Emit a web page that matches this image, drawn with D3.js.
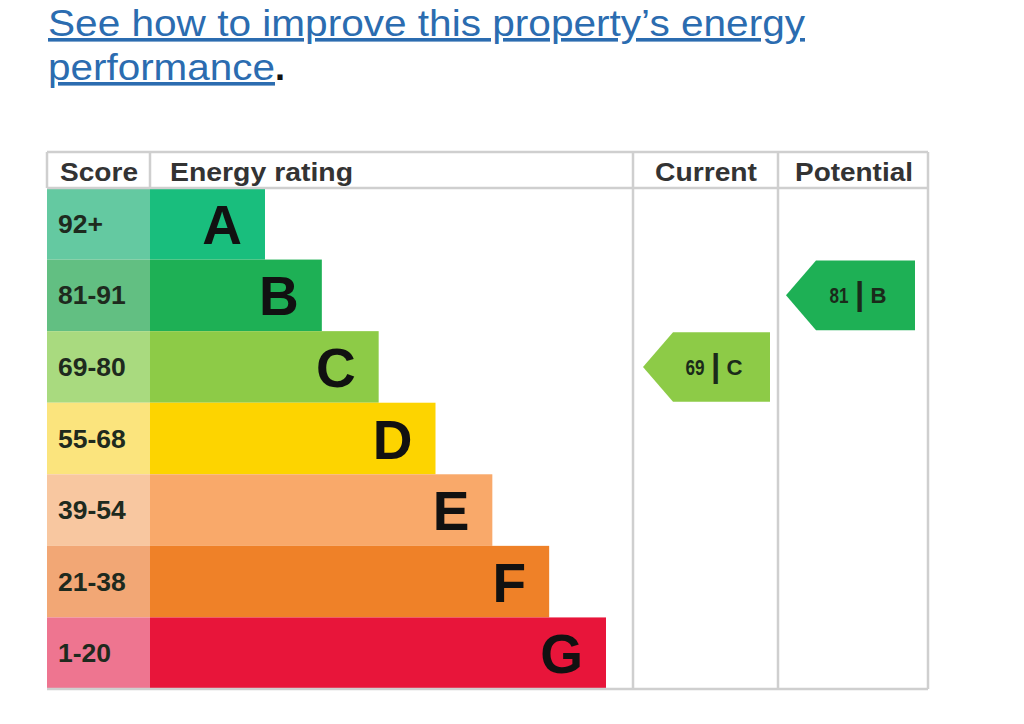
<!DOCTYPE html>
<html><head><meta charset="utf-8">
<script src="https://cdn.jsdelivr.net/npm/d3@7"></script>
<style>
html,body{margin:0;padding:0;background:#fff;}
svg{display:block;font-family:"Liberation Sans",Arial,sans-serif;}
</style></head>
<body>
<svg id="chart" width="1024" height="724"></svg>
<script>
const ratings = ["A","B","C","D","E","F","G"];
const scoreRanges = ["92+","81-91","69-80","55-68","39-54","21-38","1-20"];
const barColors = ["#19be7d","#1eb055","#8dcb47","#fdd400","#f9a96a","#ef8128","#e8153a"];
const scoreColors = ["#64c9a1","#62bf82","#a9da7f","#fbe47d","#f8c7a0","#f2a775","#ee7590"];
const headers = ["Score","Energy rating","Current","Potential"];
const currentScore = 69, currentRating = "C";
const potentialScore = 81, potentialRating = "B";
const titleLine1 = "See how to improve this property\u2019s energy";
const titleLine2 = "performance";

(function(){
const svg = d3.select("#chart");

// Title link
svg.append("text").attr("x",48).attr("y",36).attr("fill","#2b6cb0")
  .attr("font-size",36).attr("text-decoration","underline")
  .attr("textLength",757).attr("lengthAdjust","spacingAndGlyphs").text(titleLine1);
const t2 = svg.append("text").attr("x",48).attr("y",80).attr("font-size",36);
t2.append("tspan").attr("fill","#2b6cb0").attr("text-decoration","underline")
  .attr("textLength",227).attr("lengthAdjust","spacingAndGlyphs").text(titleLine2);
t2.append("tspan").attr("fill","#111").attr("font-weight","bold").text(".");

// geometry
const L=47, R=928, T=152, HB=188, B=689;
const colScore=150, colCur=633, colPot=778;
const y = d3.scaleBand().domain(ratings).range([HB,B]).padding(0);
const xEnd = d3.scaleLinear().domain([0,6]).range([265,606]);

const g = svg.append("g");
g.selectAll("rect.score").data(ratings).join("rect").attr("class","score")
  .attr("x",L).attr("y",d=>y(d)).attr("width",colScore-L).attr("height",y.bandwidth())
  .attr("fill",(d,i)=>scoreColors[i]);
g.selectAll("rect.bar").data(ratings).join("rect").attr("class","bar")
  .attr("x",colScore).attr("y",d=>y(d)).attr("width",(d,i)=>xEnd(i)-colScore).attr("height",y.bandwidth())
  .attr("fill",(d,i)=>barColors[i]);
g.selectAll("text.range").data(ratings).join("text").attr("class","range")
  .attr("x",58).attr("y",d=>y(d)+y.bandwidth()/2+9).attr("font-size",26.5).attr("font-weight","bold")
  .attr("fill","#1e2a1e").text((d,i)=>scoreRanges[i]);
g.selectAll("text.letter").data(ratings).join("text").attr("class","letter")
  .attr("x",(d,i)=>xEnd(i)-23).attr("y",d=>y(d)+y.bandwidth()/2+20).attr("text-anchor","end")
  .attr("font-size",55).attr("font-weight","bold").attr("fill","#111").text(d=>d);

// grid lines
const gc="#cfcfcf";
const lines=[
  [L,T,R,T],[L,HB,R,HB],[L,B,R,B],
  [L,T,L,HB],[colScore,T,colScore,HB],
  [colCur,T,colCur,B],[colPot,T,colPot,B],[R,T,R,B]
];
svg.append("g").selectAll("line").data(lines).join("line")
  .attr("x1",d=>d[0]).attr("y1",d=>d[1]).attr("x2",d=>d[2]).attr("y2",d=>d[3])
  .attr("stroke",gc).attr("stroke-width",2.5);

// headers
const hxs=[60,170,655,795], hws=[78,183,102,118];
svg.append("g").selectAll("text").data(headers).join("text")
  .attr("x",(d,i)=>hxs[i]).attr("textLength",(d,i)=>hws[i]).attr("lengthAdjust","spacingAndGlyphs")
  .attr("y",181).attr("font-size",26.5).attr("font-weight","bold").attr("fill","#333").text(d=>d);

// arrows
function arrow(x0,x1,rating,score){
  const i=ratings.indexOf(rating);
  const yt=y(rating)+1, h=y.bandwidth()-2, tip=30;
  const pts=[[x0,yt+h/2],[x0+tip,yt],[x1,yt],[x1,yt+h],[x0+tip,yt+h]];
  svg.append("path").attr("d",d3.line()(pts)+"Z").attr("fill",barColors[i]);
  const cx=(x0+tip+x1)/2-6, cy=yt+h/2;
  svg.append("text").attr("x",cx-11).attr("y",cy+8).attr("text-anchor","end")
    .attr("font-size",22).attr("font-weight","bold").attr("fill","#1a2a1a")
    .attr("textLength",19).attr("lengthAdjust","spacingAndGlyphs").text(score);
  svg.append("text").attr("x",cx).attr("y",cy+10).attr("text-anchor","middle")
    .attr("font-size",33).attr("font-weight","bold").attr("fill","#1a2a1a").text("|");
  svg.append("text").attr("x",cx+11).attr("y",cy+8).attr("text-anchor","start")
    .attr("font-size",22).attr("font-weight","bold").attr("fill","#1a2a1a")
    .attr("textLength",16).attr("lengthAdjust","spacingAndGlyphs").text(rating);
}
arrow(643,770,currentRating,currentScore);
arrow(786,915,potentialRating,potentialScore);
})();
</script>
</body></html>
